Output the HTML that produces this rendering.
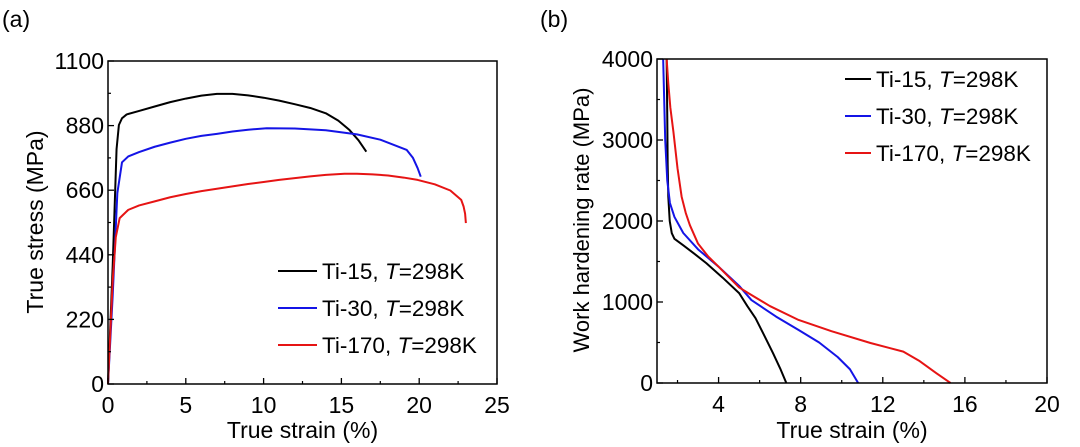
<!DOCTYPE html>
<html><head><meta charset="utf-8"><style>
body{margin:0;background:#fff}
svg{display:block;font-family:"Liberation Sans",sans-serif}
</style></head><body>
<svg id="s" width="1080" height="447" viewBox="0 0 1080 447"></svg>
<script>
// Panel (a) data
const aNames=["Ti-15","Ti-30","Ti-170"];
const aTi15X=[0,0.3,0.55,0.7,0.9,1.2,2,3,4,5,6,7,8,9,10,11,12,13,14,14.8,15.5,16.1,16.6];
const aTi15Y=[0,400,800,882,905,918,930,945,960,972,982,988,988,983,975,965,953,940,922,897,866,830,791];
const aTi30X=[0,0.3,0.6,0.9,1.3,2,3,4,5,6,7,8,9,10.2,12,14,16,17.5,19.2,19.6,19.9,20.1];
const aTi30Y=[0,300,650,755,775,790,808,822,835,845,852,860,866,871,870,864,850,832,797,770,735,706];
const aTi170X=[0,0.3,0.5,0.75,1.3,2,3,4,5,6,7,8,9,10,11,12,13,14,15.2,16,17,18,19,19.9,21,22,22.7,22.85,22.95,23.0];
const aTi170Y=[0,350,500,565,593,608,622,636,647,657,665,673,681,688,695,701,707,712,716,716,714,710,703,695,680,659,627,605,580,548];
const aXTicks=[0,5,10,15,20,25];
const aYTicks=[0,220,440,660,880,1100];
// Panel (b) data
const bTi15X=[1.47,1.5,1.52,1.55,1.62,1.72,1.85,2.28,2.8,3.4,4.2,5.0,5.4,5.8,6.2,6.65,7.0,7.3];
const bTi15Y=[4000,3300,2700,2300,2000,1850,1780,1700,1600,1480,1300,1110,950,800,600,370,180,0];
const bTi30X=[1.3,1.35,1.4,1.5,1.63,1.85,2.28,3.0,4.0,5.0,5.6,6.8,7.9,8.9,9.8,10.4,10.8];
const bTi30Y=[4000,3500,3000,2500,2222,2050,1852,1650,1436,1200,1024,820,654,500,321,170,0];
const bTi170X=[1.47,1.55,1.65,1.8,2.0,2.2,2.4,2.6,3.0,3.5,4.0,5.0,5.6,6.5,7.9,9.5,11.4,13.0,13.8,14.6,15.3];
const bTi170Y=[4000,3700,3400,3100,2650,2300,2100,1950,1720,1560,1436,1180,1086,950,778,640,494,387,270,123,0];
const bXTicks=[4,8,12,16,20];
const bYTicks=[0,1000,2000,3000,4000];
const colors=["#000000","#1414e6","#e61414"];

const svg=document.getElementById('s');
const NS="http://www.w3.org/2000/svg";
function mk(tag,at,parent){const e=document.createElementNS(NS,tag);for(const k in at)e.setAttribute(k,at[k]);(parent||svg).appendChild(e);return e;}
function txt(str,x,y,size,anchor,parent){const t=mk('text',{x:x,y:y,'font-size':size,'text-anchor':anchor||'middle',fill:'#000'},parent);t.textContent=str;return t;}

function panel(cfg){
  const g=mk('g',{});
  
  
  const sx=v=>cfg.L+(v-cfg.x0)/(cfg.x1-cfg.x0)*(cfg.R-cfg.L);
  const sy=v=>cfg.B-(v-cfg.y0)/(cfg.y1-cfg.y0)*(cfg.B-cfg.T);
  cfg.series.forEach((s,i)=>{
    const p=mk('polyline',{points:s.x.map((v,j)=>sx(v)+','+sy(s.y[j])).join(' '),fill:'none',stroke:colors[i],'stroke-width':2,'stroke-linejoin':'round'},g);
    
    
  });
  mk('rect',{x:cfg.L-2,y:0,width:cfg.R-cfg.L+4,height:cfg.T,fill:'#fff'},g);
  const box=mk('rect',{x:cfg.L,y:cfg.T,width:cfg.R-cfg.L,height:cfg.B-cfg.T,fill:'none',stroke:'#000','stroke-width':1.5},g);
  
  
  cfg.xt.forEach((v,i)=>{
    const x=sx(v);
    mk('line',{x1:x,y1:cfg.B,x2:x,y2:cfg.B-6,stroke:'#000','stroke-width':1.3},g);
    if(i<cfg.xt.length-1){const m=sx(v+(cfg.xt[1]-cfg.xt[0])/2);mk('line',{x1:m,y1:cfg.B,x2:m,y2:cfg.B-3,stroke:'#000','stroke-width':1.2},g);}
    if(cfg.xt0 && v===cfg.xt[0]){const m=sx(v-(cfg.xt[1]-cfg.xt[0])/2);if(m>cfg.L)mk('line',{x1:m,y1:cfg.B,x2:m,y2:cfg.B-3,stroke:'#000','stroke-width':1.2},g);}
    const t=txt(String(v),x,cfg.B+29,23,'middle',g);
    
    
  });
  cfg.yt.forEach((v,i)=>{
    const y=sy(v);
    mk('line',{x1:cfg.L,y1:y,x2:cfg.L+6,y2:y,stroke:'#000','stroke-width':1.3},g);
    if(i<cfg.yt.length-1){const m=sy(v+(cfg.yt[1]-cfg.yt[0])/2);mk('line',{x1:cfg.L,y1:m,x2:cfg.L+3,y2:m,stroke:'#000','stroke-width':1.2},g);}
    const t=txt(String(v),cfg.L-4,y+8,23,'end',g);
    
    
  });
  const xt=txt(cfg.xtitle,(cfg.L+cfg.R)/2,438,23,'middle',g);
  
  
  const yt=txt(cfg.ytitle,0,0,cfg.ytsize,'middle',g);
  yt.setAttribute('transform','translate('+cfg.ytx+','+cfg.yty+') rotate(-90)');
  
  
  const lab=txt(cfg.label,cfg.labx,27,23,'start',g);
  
  
  aNames.forEach((n,i)=>{
    const y=cfg.legY+i*cfg.legDY;
    const lg=mk('g',{},g);
    
    
    mk('line',{x1:cfg.legX,y1:y,x2:cfg.legX+cfg.legW,y2:y,stroke:colors[i],'stroke-width':2},lg);
    const t=mk('text',{x:cfg.legX+cfg.legW+5,y:y+8,'font-size':22.5,fill:'#000'},lg);
    t.innerHTML=n+', <tspan font-style="italic">T</tspan>=298K';
  });
}
panel({name:'stress-strain-chart',L:108,R:497,T:61,B:384,x0:0,x1:25,y0:0,y1:1100,xt:aXTicks,yt:aYTicks,
  series:[{x:aTi15X,y:aTi15Y},{x:aTi30X,y:aTi30Y},{x:aTi170X,y:aTi170Y}],
  xtitle:'True strain (%)',ytitle:'True stress (MPa)',ytsize:23,ytx:43,yty:222,label:'(a)',labx:2,legX:278,legW:39,legY:271,legDY:37});
panel({name:'work-hardening-chart',L:657,R:1047,T:59,B:383,x0:1,x1:20,y0:0,y1:4000,xt:bXTicks,xt0:true,yt:bYTicks,
  series:[{x:bTi15X,y:bTi15Y},{x:bTi30X,y:bTi30Y},{x:bTi170X,y:bTi170Y}],
  xtitle:'True strain (%)',ytitle:'Work hardening rate (MPa)',ytsize:22,ytx:589,yty:220,label:'(b)',labx:540,legX:845,legW:26,legY:79,legDY:37});
</script>
</body></html>
